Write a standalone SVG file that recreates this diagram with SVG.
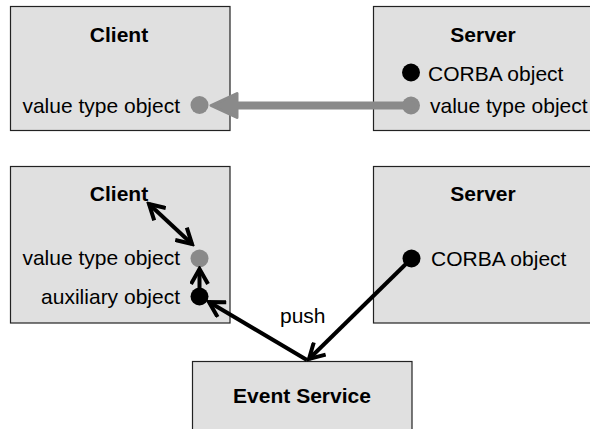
<svg xmlns="http://www.w3.org/2000/svg" width="590" height="429" viewBox="0 0 590 429">
<style>
.box{fill:#e0e0e0;stroke:#222;stroke-width:1.2}
.t{font-family:"Liberation Sans",Arial,sans-serif;font-size:21px;fill:#000}
.b{font-weight:bold;text-anchor:middle}
.e{text-anchor:end}
.gray{fill:#8a8a8a}
.blk{fill:#000}
.arr{stroke:#000;stroke-width:4;fill:none}
</style>
<defs>
<marker id="open" viewBox="0 0 20 20" refX="17" refY="10" markerWidth="20" markerHeight="20" markerUnits="userSpaceOnUse" orient="auto-start-reverse">
<path d="M2,1.5 L17,10 L2,18.5" fill="none" stroke="#000" stroke-width="4"/>
</marker>
</defs>
<rect width="590" height="429" fill="#fff"/>
<g id="client1">
<rect class="box" x="10.5" y="6.5" width="219.5" height="124"/>
<text class="t b" x="119" y="42">Client</text>
<text class="t e" x="180" y="113">value type object</text>
<circle class="gray" cx="199.5" cy="105" r="9"/>
</g>
<g id="server1">
<rect class="box" x="373.5" y="6.5" width="230" height="124"/>
<text class="t b" x="483" y="42">Server</text>
<circle class="blk" cx="411" cy="72.5" r="9"/>
<text class="t" x="428" y="81">CORBA object</text>
<circle class="gray" cx="411" cy="105.5" r="9"/>
<text class="t" x="430" y="113">value type object</text>
</g>
<g id="client2">
<rect class="box" x="10.5" y="166.5" width="219.5" height="156.5"/>
<text class="t b" x="119" y="201">Client</text>
<text class="t e" x="180" y="265">value type object</text>
<circle class="gray" cx="199.5" cy="258.5" r="9"/>
<text class="t e" x="180" y="304">auxiliary object</text>
<circle class="blk" cx="199.5" cy="296.5" r="9"/>
</g>
<g id="server2">
<rect class="box" x="373.5" y="166.5" width="230" height="156.5"/>
<text class="t b" x="483" y="201">Server</text>
<circle class="blk" cx="411.5" cy="258.5" r="9"/>
<text class="t" x="431" y="266">CORBA object</text>
</g>
<g id="eventservice">
<rect class="box" x="192.5" y="361.5" width="219.5" height="120"/>
<text class="t b" x="302" y="403">Event Service</text>
</g>
<g id="connectors">
<line x1="411" y1="105.5" x2="236" y2="105.5" stroke="#8a8a8a" stroke-width="8" stroke-linecap="round"/>
<polygon points="211,105.5 237,93.5 237,117.5" fill="#8a8a8a" stroke="#8a8a8a" stroke-width="3" stroke-linejoin="round"/>
<line class="arr" x1="149" y1="204" x2="192" y2="244" marker-start="url(#open)" marker-end="url(#open)"/>
<line class="arr" x1="199.5" y1="288" x2="199.5" y2="269" marker-end="url(#open)"/>
<line class="arr" x1="307" y1="360" x2="209" y2="302" marker-end="url(#open)"/>
<line class="arr" x1="411.5" y1="258.5" x2="309" y2="359" marker-end="url(#open)"/>
<text class="t" x="280" y="323">push</text>
</g>
</svg>
